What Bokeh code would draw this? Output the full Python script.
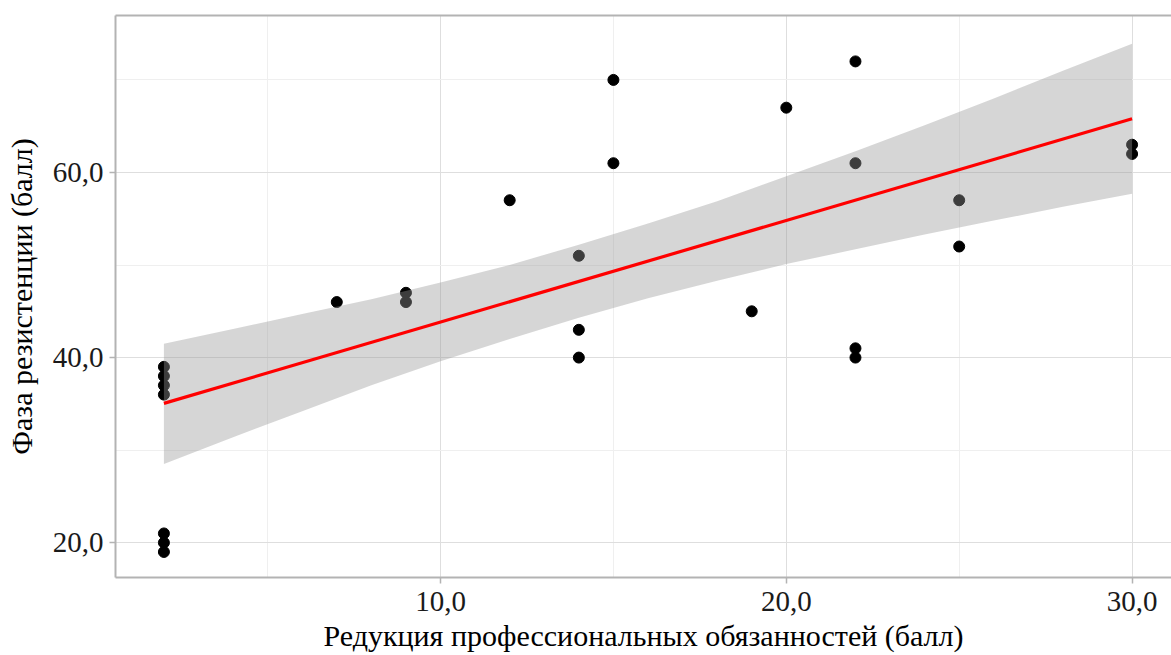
from bokeh.plotting import figure
from bokeh.models import Range1d, FixedTicker, LinearAxis
from bokeh.embed import file_html
from bokeh.resources import INLINE

# Observations: professional-duty reduction score vs. resistance phase score
reduction = [2, 2, 2, 2, 2, 2, 2, 7, 9, 9, 12, 14, 14, 14, 15, 15, 19, 20,
             22, 22, 22, 22, 25, 25, 30, 30]
resistance = [19, 20, 21, 36, 37, 38, 39, 46, 46, 47, 57, 40, 43, 51, 61, 70, 45, 67,
              40, 41, 61, 72, 52, 57, 62, 63]

# Linear fit and its 95% confidence band
fit_x = [2, 30]
fit_y = [35.05, 65.8]
band_x = [2, 4, 6, 8, 10, 12, 14, 16, 18, 20, 22, 24, 26, 28, 30]
band_upper = [41.5, 43.1, 44.7, 46.3, 48.1, 50.0, 52.2, 54.5, 56.9, 59.6,
              62.3, 65.1, 68.0, 71.0, 73.9]
band_lower = [28.5, 31.4, 34.2, 37.0, 39.6, 42.0, 44.3, 46.4, 48.3, 50.1,
              51.7, 53.3, 54.8, 56.3, 57.7]

x_ticks = [10, 20, 30]
x_tick_labels = ["10,0", "20,0", "30,0"]
x_minor = [5, 15, 25]
y_ticks = [20, 40, 60]
y_tick_labels = ["20,0", "40,0", "60,0"]
y_minor = [30, 50, 70]

FONT = "Liberation Serif"
BORDER = "#b3b3b3"

p = figure(width=1171, height=655, output_backend="svg", toolbar_location=None,
           x_range=Range1d(0.6, 31.14), y_range=Range1d(16.24, 76.96),
           min_border_left=115, min_border_right=0, min_border_top=15,
           min_border_bottom=78)
p.outline_line_color = None
p.background_fill_color = "white"
p.border_fill_color = "white"

p.xaxis.ticker = FixedTicker(ticks=x_ticks, minor_ticks=x_minor)
p.yaxis.ticker = FixedTicker(ticks=y_ticks, minor_ticks=y_minor)
p.xaxis.major_label_overrides = dict(zip(x_ticks, x_tick_labels))
p.yaxis.major_label_overrides = dict(zip(y_ticks, y_tick_labels))

for ax in (p.xaxis[0], p.yaxis[0]):
    ax.axis_line_color = BORDER
    ax.axis_line_width = 2
    ax.major_tick_line_color = BORDER
    ax.major_tick_line_width = 1.5
    ax.major_tick_out = 6
    ax.major_tick_in = 0
    ax.minor_tick_out = 0
    ax.minor_tick_in = 0
    ax.major_label_text_font = FONT
    ax.major_label_text_font_size = "29px"
    ax.major_label_text_color = "#1a1a1a"
    ax.axis_label_text_font = FONT
    ax.axis_label_text_font_size = "30px"
    ax.axis_label_text_font_style = "normal"
    ax.axis_label_text_color = "black"

p.xaxis.axis_label = "Редукция профессиональных обязанностей (балл)"
p.yaxis.axis_label = "Фаза резистенции (балл)"
p.xaxis.major_label_standoff = 8
p.xaxis.axis_label_standoff = 5
p.yaxis.major_label_standoff = 6
p.yaxis.axis_label_standoff = 12

# top frame line
top = LinearAxis(ticker=FixedTicker(ticks=[]), axis_line_color=BORDER, axis_line_width=2,
                 major_tick_line_color=None, minor_tick_line_color=None,
                 major_label_text_font_size="0px")
p.add_layout(top, "above")

p.xgrid.grid_line_color = "#dedede"
p.ygrid.grid_line_color = "#dedede"
p.xgrid.minor_grid_line_color = "#efefef"
p.ygrid.minor_grid_line_color = "#efefef"

p.scatter(reduction, resistance, size=11, color="black")
p.varea(x=band_x, y1=band_lower, y2=band_upper, fill_color="#999999", fill_alpha=0.4)
p.line(fit_x, fit_y, line_color="#ff0000", line_width=3.2)

open("out.html", "w").write(file_html(p, INLINE))
